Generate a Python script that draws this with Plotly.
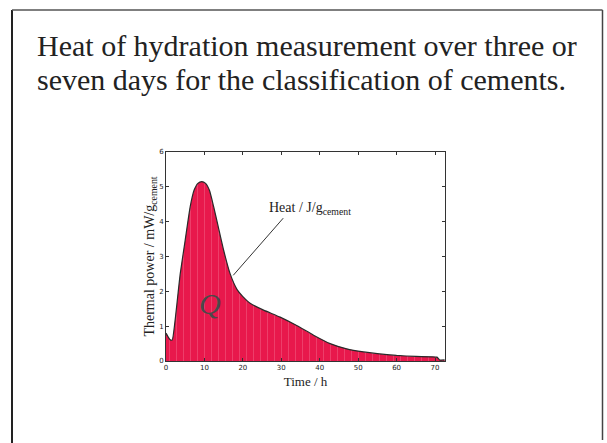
import plotly.graph_objects as go

# Data
time_h = [0, 0.4, 1.0, 1.6, 2.3, 3.0, 3.7, 5.0, 6.3, 7.3, 8.3, 9.3, 10.3, 11.3, 12.4, 13.5, 15.0,
          16.7, 18.5, 20.0, 22.0, 25.4, 29.7, 34.0, 38.4, 42.7, 47.0, 51.4, 55.0, 60.0,
          65.0, 70.5, 71.2, 72.5]
power = [0.8, 0.72, 0.62, 0.6, 1.1, 1.8, 2.5, 3.47, 4.43, 4.9, 5.1, 5.15, 5.1, 4.9, 4.43, 3.9, 3.18,
         2.5, 2.05, 1.85, 1.65, 1.46, 1.26, 1.02, 0.74, 0.5, 0.35, 0.26, 0.21, 0.16,
         0.13, 0.11, 0.03, 0.03]
x_ticks = [0, 10, 20, 30, 40, 50, 60, 70]
y_ticks = [0, 1, 2, 3, 4, 5, 6]

title_lines = ["Heat of hydration measurement over three or",
               "seven days for the classification of cements."]

W, H = 607, 443
L, R, T, B = 166, 445, 152, 361  # plot area in pixels


def px_x(p):
    return (p - L) / (R - L)


def px_y(p):
    return (B - p) / (B - T)


fig = go.Figure()
fig.add_trace(go.Scatter(
    x=time_h, y=power, mode="lines", fill="tozeroy",
    line=dict(color="#2a2a2a", width=1.2, shape="spline", smoothing=0.5),
    fillcolor="#E8184C",
    fillpattern=dict(shape="|", fgcolor="rgba(255,190,205,0.55)", bgcolor="#E8184C",
                     size=7, solidity=0.12),
    hoverinfo="skip", showlegend=False,
))

serif = "Liberation Serif"

fig.update_layout(
    width=W, height=H,
    margin=dict(l=L, r=W - R, t=T, b=H - B),
    paper_bgcolor="white", plot_bgcolor="white",
    font=dict(family=serif, color="#222"),
    xaxis=dict(range=[0, 72.6], tickvals=x_ticks, ticks="inside", ticklen=3,
               tickcolor="#333", showline=True, linecolor="#333", linewidth=1,
               mirror="ticks", showgrid=False, zeroline=False,
               tickfont=dict(family="DejaVu Sans", size=7, color="#222"),
               title=dict(text="Time / h", font=dict(family=serif, size=13, color="#222"),
                          standoff=5)),
    yaxis=dict(range=[0, 6], tickvals=y_ticks, ticks="inside", ticklen=3,
               tickcolor="#333", showline=True, linecolor="#333", linewidth=1,
               mirror="ticks", showgrid=False, zeroline=False,
               tickfont=dict(family="DejaVu Sans", size=7, color="#222"),
               title=dict(text="Thermal power / mW/g<sub>cement</sub>",
                          font=dict(family=serif, size=14, color="#222"), standoff=1)),
)

# Title lines
fig.add_annotation(text=title_lines[0], xref="paper", yref="paper",
                   x=px_x(35), y=px_y(45), xanchor="left", yanchor="middle",
                   showarrow=False, font=dict(family=serif, size=30, color="#222"))
fig.add_annotation(text=title_lines[1], xref="paper", yref="paper",
                   x=px_x(35), y=px_y(79), xanchor="left", yanchor="middle",
                   showarrow=False, font=dict(family=serif, size=30, color="#222"))

# Heat annotation with leader line
fig.add_annotation(text="Heat / J/g<sub>cement</sub>", x=26.4, y=4.38, xref="x", yref="y",
                   xanchor="left", yanchor="middle", showarrow=False,
                   font=dict(family=serif, size=14, color="#222"))
fig.add_shape(type="line", xref="x", yref="y", x0=17.5, y0=2.46, x1=30.5, y1=4.1,
              line=dict(color="#333", width=1))

# Q label
fig.add_annotation(text="<i>Q</i>", x=11.5, y=1.65, xref="x", yref="y",
                   showarrow=False, font=dict(family=serif, size=30, color="#4a4a4a"))

# Slide border
fig.add_shape(type="line", xref="paper", yref="paper", x0=px_x(12), x1=px_x(12),
              y0=px_y(10), y1=px_y(443), line=dict(color="#222", width=2))
fig.add_shape(type="line", xref="paper", yref="paper", x0=px_x(602.5), x1=px_x(602.5),
              y0=px_y(10), y1=px_y(440), line=dict(color="#444", width=1.5))
fig.add_shape(type="line", xref="paper", yref="paper", x0=px_x(12), x1=px_x(602.5),
              y0=px_y(10), y1=px_y(10), line=dict(color="#555", width=1.5))

fig.write_html("out.html", config={"displayModeBar": False},
               post_script="document.body.style.margin='0px';document.body.style.overflow='hidden';")
